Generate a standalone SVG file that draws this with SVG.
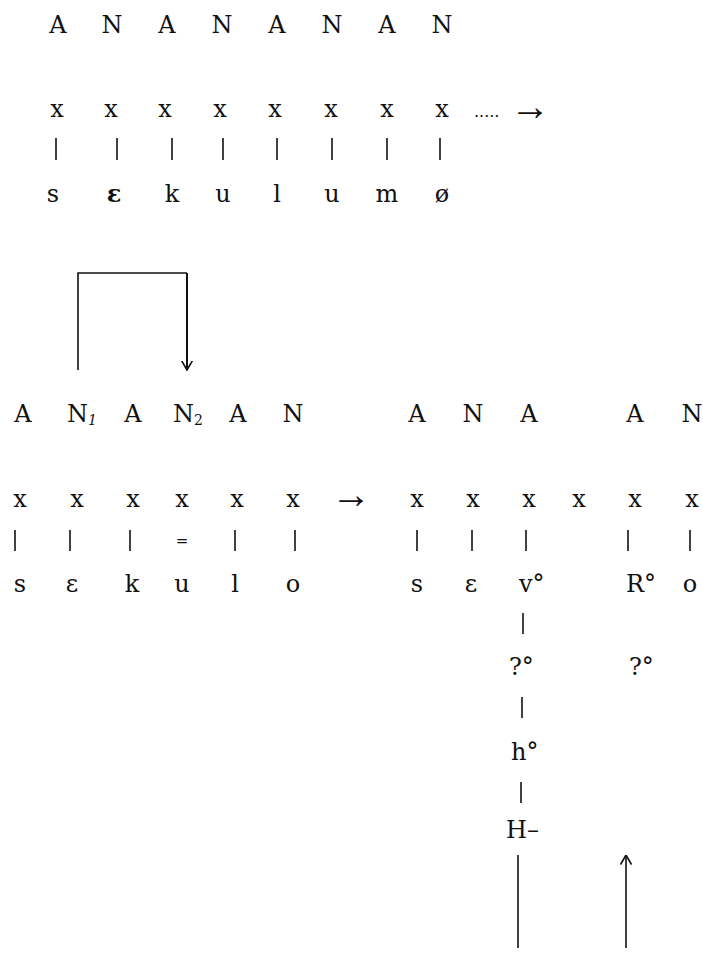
<svg xmlns="http://www.w3.org/2000/svg" width="703" height="958" viewBox="0 0 703 958">
<defs>
<style>
text{font-family:"DejaVu Serif","Liberation Serif",serif;font-size:24px;fill:#111;text-anchor:middle}
.s{text-anchor:start}
.sub{font-size:14px;font-style:italic}
.sym{font-family:"Liberation Serif","DejaVu Serif",serif;font-size:40px}
.dots{font-size:16px;text-anchor:start}
.eq{font-size:15px}
.b{font-weight:bold}
.ln{stroke:#111;stroke-width:1.6;fill:none}
.ln2{stroke:#111;stroke-width:2;fill:none}
</style>
<marker id="ah" viewBox="0 0 10 12" refX="9.5" refY="6" markerWidth="10" markerHeight="12" markerUnits="userSpaceOnUse" orient="auto">
<path d="M0,0.5 L9.5,6 L0,11.5" fill="none" stroke="#111" stroke-width="1.6"/>
</marker>
</defs>
<rect width="703" height="958" fill="#fff"/>

<g id="top-skeleton">
<g id="t-a1"><text x="58" y="33">A</text></g>
<g id="t-n1"><text x="112" y="33">N</text></g>
<g id="t-a2"><text x="167" y="33">A</text></g>
<g id="t-n2"><text x="222" y="33">N</text></g>
<g id="t-a3"><text x="277" y="33">A</text></g>
<g id="t-n3"><text x="332" y="33">N</text></g>
<g id="t-a4"><text x="387" y="33">A</text></g>
<g id="t-n4"><text x="442" y="33">N</text></g>
</g>
<g id="top-timing">
<g id="t-x1"><text x="57" y="117">x</text></g>
<g id="t-x2"><text x="111" y="117">x</text></g>
<g id="t-x3"><text x="165" y="117">x</text></g>
<g id="t-x4"><text x="220" y="117">x</text></g>
<g id="t-x5"><text x="275" y="117">x</text></g>
<g id="t-x6"><text x="331" y="117">x</text></g>
<g id="t-x7"><text x="387" y="117">x</text></g>
<g id="t-x8"><text x="442" y="117">x</text></g>
<g id="t-dots"><text class="dots" x="474" y="117">.....</text></g>
<g id="t-arrow"><text class="sym" x="530" y="120">→</text></g>
</g>
<g id="top-segments">
<g id="t-s1"><text x="53" y="202">s</text></g>
<g id="t-s2"><text class="b" x="114" y="202">ε</text></g>
<g id="t-s3"><text x="172" y="202">k</text></g>
<g id="t-s4"><text x="223" y="202">u</text></g>
<g id="t-s5"><text x="277" y="202">l</text></g>
<g id="t-s6"><text x="332" y="202">u</text></g>
<g id="t-s7"><text x="387" y="202">m</text></g>
<g id="t-s8"><text x="442" y="202">ø</text></g>
</g>

<g id="bl-skeleton">
<g id="bl-a1"><text x="23" y="422">A</text></g>
<g id="bl-n1"><text class="s" x="67" y="422">N<tspan class="sub" dy="3">1</tspan></text></g>
<g id="bl-a2"><text x="133" y="422">A</text></g>
<g id="bl-n2"><text class="s" x="173" y="422">N<tspan class="sub" dy="3" style="font-style:normal">2</tspan></text></g>
<g id="bl-a3"><text x="238" y="422">A</text></g>
<g id="bl-n3"><text x="293" y="422">N</text></g>
</g>
<g id="bl-timing">
<g id="bl-x1"><text x="20" y="507">x</text></g>
<g id="bl-x2"><text x="77" y="507">x</text></g>
<g id="bl-x3"><text x="133" y="507">x</text></g>
<g id="bl-x4"><text x="182" y="507">x</text></g>
<g id="bl-x5"><text x="237" y="507">x</text></g>
<g id="bl-x6"><text x="293" y="507">x</text></g>
<g id="bl-arrow"><text class="sym" x="351" y="508">→</text></g>
</g>
<g id="bl-segments">
<g id="bl-s1"><text x="20" y="592">s</text></g>
<g id="bl-s2"><text x="72" y="592">ε</text></g>
<g id="bl-s3"><text x="132" y="592">k</text></g>
<g id="bl-s4"><text x="182" y="592">u</text></g>
<g id="bl-s5"><text x="235" y="592">l</text></g>
<g id="bl-s6"><text x="293" y="592">o</text></g>
<g id="bl-eq"><text class="eq" x="182" y="546">=</text></g>
</g>

<g id="br-skeleton">
<g id="br-a1"><text x="417" y="422">A</text></g>
<g id="br-n1"><text x="473" y="422">N</text></g>
<g id="br-a2"><text x="529" y="422">A</text></g>
<g id="br-a3"><text x="635" y="422">A</text></g>
<g id="br-n2"><text x="692" y="422">N</text></g>
</g>
<g id="br-timing">
<g id="br-x1"><text x="417" y="507">x</text></g>
<g id="br-x2"><text x="473" y="507">x</text></g>
<g id="br-x3"><text x="529" y="507">x</text></g>
<g id="br-x4"><text x="579" y="507">x</text></g>
<g id="br-x5"><text x="635" y="507">x</text></g>
<g id="br-x6"><text x="692" y="507">x</text></g>
</g>
<g id="br-segments">
<g id="br-s1"><text x="417" y="592">s</text></g>
<g id="br-s2"><text x="471" y="592">ε</text></g>
<g id="br-v"><text class="s" x="519" y="592">v°</text></g>
<g id="br-r"><text class="s" x="626" y="592">R°</text></g>
<g id="br-o"><text x="690" y="592">o</text></g>
<g id="br-q1"><text class="s" x="509" y="675">?°</text></g>
<g id="br-q2"><text class="s" x="629" y="675">?°</text></g>
<g id="br-h"><text class="s" x="511" y="760">h°</text></g>
<g id="br-H"><text class="s" x="506" y="838">H–</text></g>
</g>

<g id="connectors">
<line class="ln" x1="56" y1="138" x2="56" y2="160"/>
<line class="ln" x1="117" y1="138" x2="117" y2="160"/>
<line class="ln" x1="172" y1="138" x2="172" y2="160"/>
<line class="ln" x1="223" y1="138" x2="223" y2="160"/>
<line class="ln" x1="277" y1="138" x2="277" y2="160"/>
<line class="ln" x1="332" y1="138" x2="332" y2="160"/>
<line class="ln" x1="387" y1="138" x2="387" y2="160"/>
<line class="ln" x1="440" y1="138" x2="440" y2="160"/>

<path class="ln" d="M78,370 V273 H187"/>
<path class="ln2" d="M187,273 V370" marker-end="url(#ah)"/>

<line class="ln" x1="15" y1="530" x2="15" y2="551"/>
<line class="ln" x1="70" y1="530" x2="70" y2="551"/>
<line class="ln" x1="130" y1="530" x2="130" y2="551"/>
<line class="ln" x1="235" y1="530" x2="235" y2="551"/>
<line class="ln" x1="295" y1="530" x2="295" y2="551"/>

<line class="ln" x1="417" y1="530" x2="417" y2="551"/>
<line class="ln" x1="472" y1="530" x2="472" y2="551"/>
<line class="ln" x1="526" y1="530" x2="526" y2="551"/>
<line class="ln" x1="628" y1="530" x2="628" y2="551"/>
<line class="ln" x1="690" y1="530" x2="690" y2="551"/>

<line class="ln" x1="523" y1="613" x2="523" y2="634"/>
<line class="ln" x1="522" y1="697" x2="522" y2="718"/>
<line class="ln" x1="521" y1="782" x2="521" y2="803"/>
<line class="ln" x1="518" y1="855" x2="518" y2="948"/>
<line class="ln" x1="626" y1="948" x2="626" y2="855" marker-end="url(#ah)"/>
</g>
</svg>
